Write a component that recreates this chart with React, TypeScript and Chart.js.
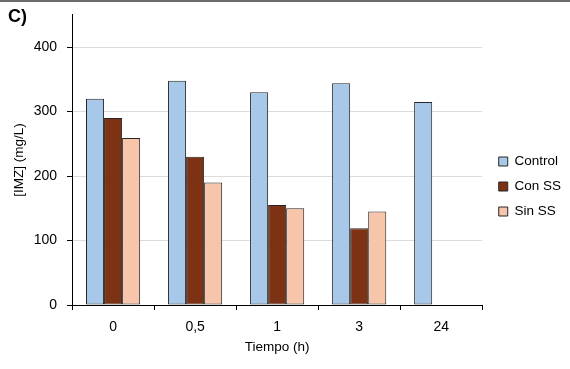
import React, { useEffect, useRef } from "react";
import { Chart, registerables } from "chart.js";

Chart.register(...registerables);

const categories = ["0", "0,5", "1", "3", "24"];
const controlValues = [320, 348, 330, 344, 315];
const conSSValues = [290, 230, 155, 119, null];
const sinSSValues = [259, 190, 150, 145, null];
const yTicks = [0, 100, 200, 300, 400];
const seriesNames = ["Control", "Con SS", "Sin SS"];
const seriesColors = ["#a8c8ea", "#7d3214", "#f6c5aa"];

const FONT = "'Liberation Sans', Arial, sans-serif";

const legendShift = {
  id: "legendShift",
  afterUpdate(chart: any) {
    const lg = chart.legend;
    if (!lg) return;
    const dx = 5;
    const dy = 6;
    lg.left += dx;
    lg.right += dx;
    lg.top += dy;
    lg.bottom += dy;
    (lg.legendHitBoxes || []).forEach((b: any) => {
      b.left += dx;
      b.top += dy;
    });
  },
};

export default function App() {
  const ref = useRef<HTMLCanvasElement>(null);
  useEffect(() => {
    document.body.style.margin = "0";
    const ctx = ref.current!;
    const chart = new Chart(ctx, {
      type: "bar",
      data: {
        labels: categories,
        datasets: [controlValues, conSSValues, sinSSValues].map((d, i) => ({
          label: seriesNames[i],
          data: d,
          backgroundColor: seriesColors[i],
          borderColor: "#262626",
          borderWidth: 1,
          borderSkipped: false,
          barPercentage: 1,
          categoryPercentage: 0.66,
        })),
      },
      options: {
        animation: false,
        responsive: false,
        devicePixelRatio: 1,
        layout: { padding: { top: 6, right: 4, left: 6, bottom: 14 } },
        plugins: {
          tooltip: { enabled: false },
          legend: {
            position: "right",
            align: "center",
            labels: {
              boxWidth: 9,
              boxHeight: 9,
              padding: 11.5,
              color: "#000",
              font: { family: FONT, size: 13.5 },
            },
          },
        },
        scales: {
          x: {
            grid: {
              display: true,
              drawOnChartArea: false,
              drawTicks: true,
              tickLength: 5,
              tickColor: "#000",
              offset: true,
            },
            border: { display: true, color: "#000", width: 1 },
            ticks: { color: "#000", font: { family: FONT, size: 14 }, padding: 8.5 },
            title: {
              display: true,
              text: "Tiempo (h)",
              color: "#000",
              font: { family: FONT, size: 13.5 },
              padding: { top: -5, bottom: 0 },
            },
          },
          y: {
            min: 0,
            max: 450,
            afterBuildTicks: (scale: any) => {
              scale.ticks = yTicks.map((v) => ({ value: v }));
            },
            grid: {
              color: "#dcdcdc",
              lineWidth: 1,
              drawTicks: true,
              tickLength: 5,
              tickColor: "#000",
            },
            border: { display: true, color: "#000", width: 1 },
            ticks: { color: "#000", font: { family: FONT, size: 14, lineHeight: 0.7 }, padding: 10 },
            title: {
              display: true,
              text: "[IMZ] (mg/L)",
              color: "#000",
              font: { family: FONT, size: 13.5 },
              padding: { top: 5, bottom: -3.5 },
            },
          },
        },
      },
      plugins: [legendShift],
    });
    return () => chart.destroy();
  }, []);
  return (
    <div style={{ position: "relative", width: 570, height: 369, background: "#fff" }}>
      <canvas ref={ref} width={570} height={369} style={{ display: "block" }} />
      <div style={{ position: "absolute", left: 0, top: 0, width: 570, height: 2, background: "#6b6b6b" }} />
      <div style={{ position: "absolute", left: 8, top: 6, fontFamily: FONT, fontWeight: "bold", fontSize: 18, color: "#000" }}>C)</div>
    </div>
  );
}
